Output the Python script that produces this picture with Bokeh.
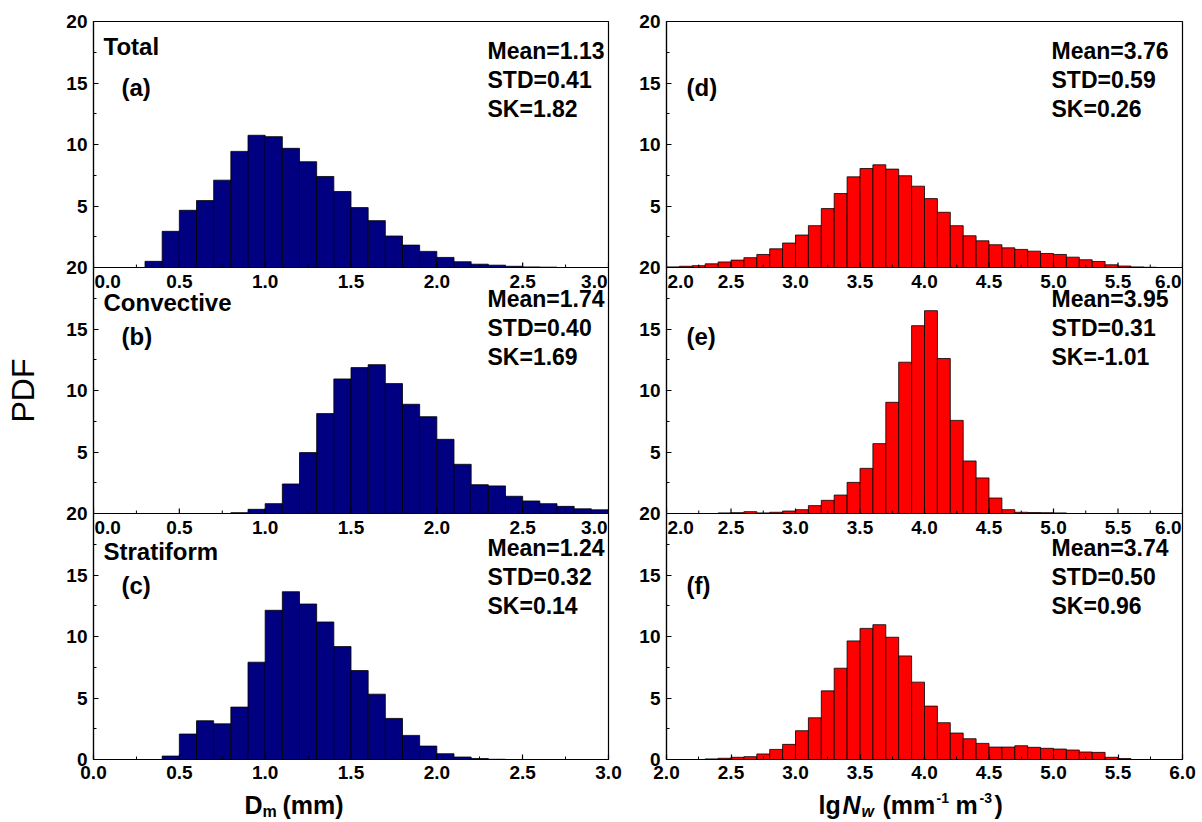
from bokeh.plotting import figure
from bokeh.models import Range1d, FixedTicker, Label, Span, NumeralTickFormatter
from bokeh.layouts import row, column
from bokeh.embed import file_html
from bokeh.resources import INLINE
from bokeh.core.properties import value

FONT = "Liberation Sans"

# ---------------- data (PDF, %) ----------------
dm_total_bins = [0.3, 0.4, 0.5, 0.6, 0.7, 0.8, 0.9, 1.0, 1.1, 1.2, 1.3, 1.4, 1.5, 1.6, 1.7, 1.8,
                 1.9, 2.0, 2.1, 2.2, 2.3, 2.4, 2.5, 2.6]
dm_total_pdf = [0.5, 2.94, 4.65, 5.44, 7.1, 9.44, 10.75, 10.64, 9.69, 8.6, 7.4, 6.18, 4.87, 3.81,
                2.56, 1.82, 1.31, 0.82, 0.47, 0.27, 0.19, 0.1, 0.05, 0.03]

dm_conv_bins = [0.8, 0.9, 1.0, 1.1, 1.2, 1.3, 1.4, 1.5, 1.6, 1.7, 1.8, 1.9, 2.0, 2.1, 2.2, 2.3,
                2.4, 2.5, 2.6, 2.7, 2.8, 2.9]
dm_conv_pdf = [0.07, 0.34, 0.8, 2.4, 4.95, 8.12, 10.94, 11.86, 12.1, 10.56, 8.88, 7.87, 6.03, 4.0,
               2.34, 2.24, 1.4, 1.02, 0.8, 0.58, 0.38, 0.3]

dm_strat_bins = [0.4, 0.5, 0.6, 0.7, 0.8, 0.9, 1.0, 1.1, 1.2, 1.3, 1.4, 1.5, 1.6, 1.7, 1.8, 1.9,
                 2.0, 2.1, 2.2, 2.3]
dm_strat_pdf = [0.28, 2.07, 3.15, 2.9, 4.26, 7.91, 12.13, 13.64, 12.64, 11.18, 9.18, 7.23, 5.31,
                3.34, 1.96, 1.09, 0.47, 0.2, 0.08, 0.02]

nw_total_bins = [2.0, 2.1, 2.2, 2.3, 2.4, 2.5, 2.6, 2.7, 2.8, 2.9, 3.0, 3.1, 3.2, 3.3, 3.4, 3.5,
                 3.6, 3.7, 3.8, 3.9, 4.0, 4.1, 4.2, 4.3, 4.4, 4.5, 4.6, 4.7, 4.8, 4.9, 5.0, 5.1,
                 5.2, 5.3, 5.4, 5.5, 5.6, 5.7]
nw_total_pdf = [0.05, 0.1, 0.15, 0.3, 0.45, 0.6, 0.8, 1.06, 1.52, 1.99, 2.64, 3.4, 4.79, 6.01,
                7.37, 8.05, 8.35, 8.0, 7.46, 6.61, 5.6, 4.49, 3.4, 2.58, 2.17, 1.85, 1.6, 1.47,
                1.33, 1.14, 1.06, 0.84, 0.63, 0.49, 0.22, 0.12, 0.05, 0.02]

nw_conv_bins = [2.4, 2.5, 2.6, 2.7, 2.8, 2.9, 3.0, 3.1, 3.2, 3.3, 3.4, 3.5, 3.6, 3.7, 3.8, 3.9,
                4.0, 4.1, 4.2, 4.3, 4.4, 4.5, 4.6, 4.7, 4.8, 4.9, 5.0]
nw_conv_pdf = [0.05, 0.07, 0.15, 0.05, 0.1, 0.2, 0.31, 0.64, 1.07, 1.5, 2.53, 3.67, 5.68, 9.04,
               12.3, 15.27, 16.49, 12.6, 7.57, 4.27, 2.89, 1.26, 0.31, 0.1, 0.08, 0.07, 0.05]

nw_strat_bins = [2.3, 2.4, 2.5, 2.6, 2.7, 2.8, 2.9, 3.0, 3.1, 3.2, 3.3, 3.4, 3.5, 3.6, 3.7, 3.8,
                 3.9, 4.0, 4.1, 4.2, 4.3, 4.4, 4.5, 4.6, 4.7, 4.8, 4.9, 5.0, 5.1, 5.2, 5.3, 5.4,
                 5.5]
nw_strat_pdf = [0.05, 0.1, 0.18, 0.23, 0.45, 0.82, 1.23, 2.34, 3.39, 5.58, 7.42, 9.64, 10.66,
                10.96, 9.94, 8.42, 6.29, 4.34, 2.99, 2.15, 1.69, 1.31, 1.01, 1.01, 1.12, 0.99,
                0.91, 0.85, 0.77, 0.61, 0.58, 0.18, 0.08]

BIN_WIDTH = 0.1

dm_ticks = [0.0, 0.5, 1.0, 1.5, 2.0, 2.5, 3.0]
nw_ticks = [2.0, 2.5, 3.0, 3.5, 4.0, 4.5, 5.0, 5.5, 6.0]
pdf_ticks = [0, 5, 10, 15, 20]

row_names = ["Total", "Convective", "Stratiform"]
left_tags = ["(a)", "(b)", "(c)"]
right_tags = ["(d)", "(e)", "(f)"]
dm_stats = [("1.13", "0.41", "1.82"), ("1.74", "0.40", "1.69"), ("1.24", "0.32", "0.14")]
nw_stats = [("3.76", "0.59", "0.26"), ("3.95", "0.31", "-1.01"), ("3.74", "0.50", "0.96")]

# ---------------- layout constants ----------------
W, H_TOTAL = 1202, 822
TOP, BOTTOM = 21, 28
FRAME_H = 738
H = TOP + FRAME_H + BOTTOM
H_TITLE = H_TOTAL - H
NROW = 3
YMAX = 20
PX_PER_Y = FRAME_H / (NROW * YMAX)

NAVY = "#000080"
RED = "#ff0000"


def make_panel_figure(width, xr, b_left, b_right, xticks, bins_list, pdf_list, color):
    p = figure(width=width, height=H, x_range=Range1d(*xr), y_range=Range1d(0, NROW * YMAX),
               output_backend="svg", toolbar_location=None,
               min_border_left=b_left, min_border_right=b_right,
               min_border_top=TOP, min_border_bottom=BOTTOM)
    p.grid.visible = False
    p.outline_line_color = "black"
    p.outline_line_width = 1.2
    p.outline_line_alpha = 1.0
    p.background_fill_color = "white"
    p.border_fill_color = "white"

    # one y-range per row so every bar is drawn with its true value
    ranges = {}
    for i in range(NROW):
        lo = -(NROW - 1 - i) * YMAX
        ranges[f"r{i}"] = Range1d(lo, lo + NROW * YMAX)
    p.extra_y_ranges = ranges

    # y axis: stacked 0..20 for each row
    yt = [r * YMAX + t for r in range(NROW) for t in pdf_ticks if not (t == 0 and r > 0)]
    ymin = [r * YMAX + t + 2.5 for r in range(NROW) for t in pdf_ticks[:-1]]
    yax = p.yaxis[0]
    yax.ticker = FixedTicker(ticks=yt, minor_ticks=ymin)
    yax.major_label_overrides = {v: (str(int(round(v - YMAX * int((v - 0.001) // YMAX)))) if v > 0 else "0") for v in yt}
    # x axis
    xax = p.xaxis[0]
    step = xticks[1] - xticks[0]
    xax.ticker = FixedTicker(ticks=xticks, minor_ticks=[t + step / 2 for t in xticks[:-1]])
    xax.formatter = NumeralTickFormatter(format="0.0")
    for ax in (xax, yax):
        ax.major_tick_in = 5
        ax.major_tick_out = 0
        ax.minor_tick_in = 3
        ax.minor_tick_out = 0
        ax.axis_line_width = 1.2
        ax.major_tick_line_width = 1.2
        ax.major_label_text_font = FONT
        ax.major_label_text_font_style = "bold"
        ax.major_label_text_font_size = "19px"
        ax.major_label_text_color = "black"
    yax.major_label_standoff = 6
    xax.major_label_standoff = 6

    # bars
    for i, (bins, vals) in enumerate(zip(bins_list, pdf_list)):
        p.quad(left=bins, right=[b + BIN_WIDTH for b in bins], bottom=0, top=vals,
               y_range_name=f"r{i}", fill_color=color, line_color="black", line_width=0.8)

    # row separators with inward ticks and tick labels (rows above the bottom one)
    tick_len = 5 / PX_PER_Y
    for i in range(NROW - 1):
        p.add_layout(Span(location=(NROW - 1 - i) * YMAX, dimension="width",
                          line_color="black", line_width=1.2))
        p.segment(x0=xticks, x1=xticks, y0=0, y1=tick_len, y_range_name=f"r{i}",
                  line_color="black", line_width=1.2)
        mins = [t + step / 2 for t in xticks[:-1]]
        p.segment(x0=mins, x1=mins, y0=0, y1=3 / PX_PER_Y, y_range_name=f"r{i}",
                  line_color="black", line_width=1.0)
        for j, t in enumerate(xticks):
            align = "center"
            xoff = 0
            if j == 0:
                align, xoff = "left", 1
            elif j == len(xticks) - 1:
                align, xoff = "right", -1
            p.add_layout(Label(x=t, y=-7 / PX_PER_Y, x_offset=xoff, y_range_name=f"r{i}",
                               text=f"{t:.1f}", text_font=FONT, text_font_style="bold",
                               text_font_size="19px", text_align=align, text_baseline="top",
                               text_color="black"))
    return p


def make_converters(p_left_px, x0, px_per_x):
    def xd(px):
        return x0 + (px - p_left_px) / px_per_x

    def yd(py):
        return (H - BOTTOM - py) / PX_PER_Y
    return xd, yd


def txt(p, x, y, text, size, style="bold"):
    # y is the visual middle of the text line (page pixels, converted by caller)
    p.add_layout(Label(x=x, y=y, text=text, text_font=FONT, text_font_size=f"{size}px",
                       text_font_style=style, text_align="left", text_baseline="middle",
                       text_color="black"))


# text centre lines (page pixels) per row
name_mid = [46, 302, 551]
tag_mid = [87, 336, 585]
mean_mid = [50, 298, 547]
LINE_GAP = 29

# ---------------- left column (Dm) ----------------
L_LEFT, L_RIGHT, L_W = 93, 28, 636
pL = make_panel_figure(L_W, (0, 3), L_LEFT, L_RIGHT, dm_ticks,
                       [dm_total_bins, dm_conv_bins, dm_strat_bins],
                       [dm_total_pdf, dm_conv_pdf, dm_strat_pdf], NAVY)
pL.yaxis[0].axis_label = "PDF"
pL.yaxis[0].axis_label_text_font = FONT
pL.yaxis[0].axis_label_text_font_style = "normal"
pL.yaxis[0].axis_label_text_font_size = "32px"
pL.yaxis[0].axis_label_text_color = "black"
pL.yaxis[0].axis_label_standoff = 22

xdL, ydL = make_converters(L_LEFT, 0.0, (L_W - L_LEFT - L_RIGHT) / 3.0)

for i in range(NROW):
    txt(pL, xdL(103), ydL(name_mid[i]), row_names[i], 24)
    txt(pL, xdL(121), ydL(tag_mid[i]), left_tags[i], 24)
    m, s, k = dm_stats[i]
    txt(pL, xdL(487), ydL(mean_mid[i]), f"Mean={m}", 23)
    txt(pL, xdL(487), ydL(mean_mid[i] + LINE_GAP), f"STD={s}", 23)
    txt(pL, xdL(487), ydL(mean_mid[i] + 2 * LINE_GAP), f"SK={k}", 23)

# ---------------- right column (Nw) ----------------
R_LEFT, R_RIGHT, R_W = 30, 20, 566
pR = make_panel_figure(R_W, (2, 6), R_LEFT, R_RIGHT, nw_ticks,
                       [nw_total_bins, nw_conv_bins, nw_strat_bins],
                       [nw_total_pdf, nw_conv_pdf, nw_strat_pdf], RED)
xdR, ydR = make_converters(L_W + R_LEFT, 2.0, (R_W - R_LEFT - R_RIGHT) / 4.0)

for i in range(NROW):
    txt(pR, xdR(686), ydR(tag_mid[i]), right_tags[i], 24)
    m, s, k = nw_stats[i]
    txt(pR, xdR(1051), ydR(mean_mid[i]), f"Mean={m}", 23)
    txt(pR, xdR(1051), ydR(mean_mid[i] + LINE_GAP), f"STD={s}", 23)
    txt(pR, xdR(1051), ydR(mean_mid[i] + 2 * LINE_GAP), f"SK={k}", 23)

# ---------------- axis titles strip (pixel coordinates, y from top of page) ----------------
pT = figure(width=W, height=H_TITLE, x_range=Range1d(0, W), y_range=Range1d(H_TOTAL, H),
            title=None, output_backend="svg", toolbar_location=None,
            x_axis_type=None, y_axis_type=None,
            min_border=0, min_border_left=0, min_border_right=0, min_border_top=0,
            min_border_bottom=0)
pT.outline_line_color = None
pT.grid.visible = False
pT.background_fill_color = "white"
pT.border_fill_color = "white"

title_parts = [
    # (x, y_middle, text, size, style)
    (244, 804, "D", 25, "bold"),
    (262, 811, "m", 16, "bold"),
    (282, 804, "(mm)", 25, "bold"),
    (818, 804, "lg", 25, "bold"),
    (842, 804, "N", 25, "bold italic"),
    (861, 811, "w", 16, "bold italic"),
    (882, 804, "(mm", 25, "bold"),
    (936, 797, "-1", 14, "bold"),
    (955, 804, "m", 25, "bold"),
    (979, 797, "-3", 14, "bold"),
    (994, 804, ")", 25, "bold"),
]
for (x, y, t, s, st) in title_parts:
    pT.text(x=[x], y=[y], text=[t], text_font=value(FONT), text_font_size=f"{s}px",
            text_font_style=st, text_align="left", text_baseline="middle",
            text_color="black")

layout = column(row(pL, pR), pT)
open("out.html", "w").write(file_html(layout, INLINE))
